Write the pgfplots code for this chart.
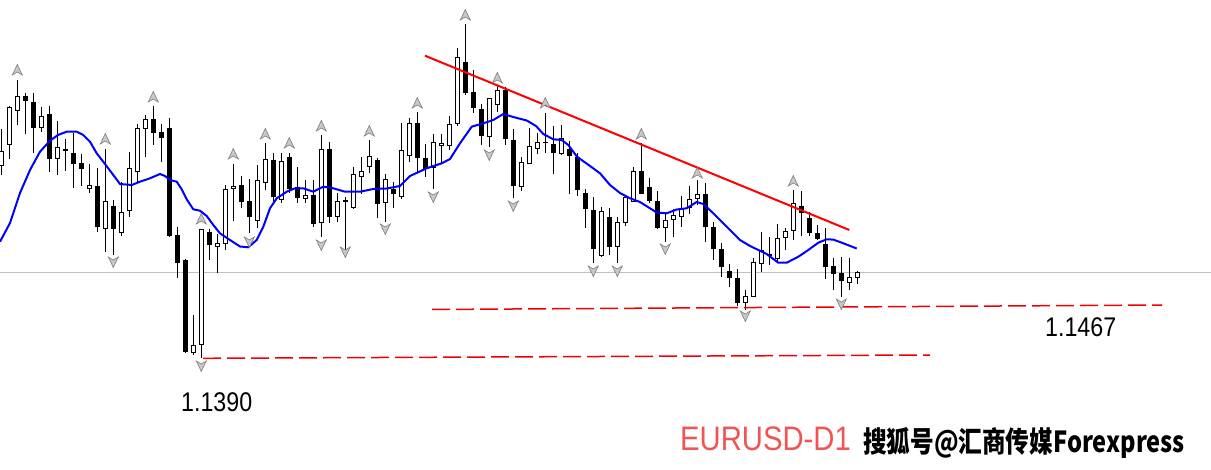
\documentclass[border=0pt]{standalone}
\usepackage{pgfplots}
\pgfplotsset{compat=1.18}
\usepackage{pgfplotstable}
\usepackage{graphicx}
\usepackage{fontspec}
\setmainfont{Liberation Sans}
\newfontfamily\cjk{Noto Sans CJK SC}

\definecolor{ma}{RGB}{0,0,255}
\definecolor{trend}{RGB}{255,0,0}
\definecolor{lvl}{RGB}{240,0,0}
\definecolor{curr}{RGB}{192,192,192}
\definecolor{tag}{RGB}{240,84,84}
\definecolor{frfill}{RGB}{200,200,200}
\definecolor{frdraw}{RGB}{125,125,125}

% fractal arrows
\pgfdeclareplotmark{fup}{%
  \pgfpathmoveto{\pgfqpoint{0pt}{5.5pt}}%
  \pgfpathlineto{\pgfqpoint{5pt}{-5pt}}%
  \pgfpathlineto{\pgfqpoint{0pt}{-2pt}}%
  \pgfpathlineto{\pgfqpoint{-5pt}{-5pt}}%
  \pgfpathclose\pgfusepathqfillstroke}
\pgfdeclareplotmark{fdn}{%
  \pgfpathmoveto{\pgfqpoint{0pt}{-5.5pt}}%
  \pgfpathlineto{\pgfqpoint{5pt}{5pt}}%
  \pgfpathlineto{\pgfqpoint{0pt}{2pt}}%
  \pgfpathlineto{\pgfqpoint{-5pt}{5pt}}%
  \pgfpathclose\pgfusepathqfillstroke}

% candles: k = bar index, o h l c in screen units (down = lower price)
\pgfplotstableread{
k o h l c
0 166 129.3 175 150.7
1 145.3 106.5 158.7 107.3
2 110.7 80 125 96
3 96 92.7 134 100.7
4 102 92.7 152.7 127.7
5 127.7 106.7 131.7 116
6 114 106 171.7 159
7 158.7 121 175 147.3
8 149.3 139.3 170.7 150.7
9 153.3 132.7 187.7 163.7
10 163 154 186 168.7
11 188.7 164 192.7 185.3
12 186 168 232 226.7
13 228.7 149.3 252 201.3
14 206 200 254.7 228.7
15 232.7 182 236 212.3
16 211 152.3 217.3 168.3
17 172 124 182 128.3
18 129.3 115 156.7 119.3
19 119.3 106 145 132.7
20 132 124 161.7 138.5
21 128.3 118 236.7 236
22 235.3 227.3 278.3 262.7
23 260 259 353 351.7
24 352.7 315 355 345
25 345.5 229 358.5 229.3
26 232 229 260 245.3
27 247.3 234 273.3 243.3
28 244.3 185 250 189.3
29 189.3 164 220.7 186.3
30 185.3 176 208.3 201.7
31 201 179.3 233.3 217.3
32 221.3 165.3 228.3 180.3
33 183.3 143 190 159.3
34 160 152.7 203 196.7
35 200 152.7 203.3 161.3
36 157 152.7 193.3 189
37 187.3 167.3 203.3 197.7
38 199.3 180 202.7 195.3
39 195 180 226.7 224
40 223.3 135 237.3 149.3
41 149.3 141.7 223.3 216.7
42 216.7 193.3 221.7 201
43 200 196.7 253.3 202.3
44 207.7 166.7 208.7 174.3
45 176.7 156.7 194 171
46 167.3 140 173 156
47 160 158 218.3 204.3
48 203.3 174 221.7 179.3
49 189.3 181.7 208.3 194.3
50 196.7 123.3 199 150.3
51 156 118.3 161.7 123.3
52 123.3 112 172 157.7
53 158.3 144 177 169.3
54 167.7 134 189 142.3
55 145.7 134 163 143.3
56 145.7 116 150 124.3
57 124.3 48.5 126 57.3
58 62.3 24 95 93
59 92.3 70 113 108.5
60 109.3 104 145.5 135.7
61 137.5 98.3 146.7 98.3
62 105.2 86 112 90
63 90 86.7 145.5 139.5
64 140 129.3 198.3 185.7
65 187.3 157 191 162.3
66 164.3 128.3 164.3 146
67 149.3 133 154 142.3
68 142.5 113.3 153.5 143.5
69 144.3 126.5 174.5 153.3
70 154.3 125.5 155.5 138.3
71 149.3 141.5 194.5 155.8
72 156.7 153 196 190.5
73 192.7 189 228.5 209.5
74 210 197 263.5 249.5
75 256.5 207 256.7 211.3
76 216.9 208.3 255 246.7
77 246.7 216.7 263.5 222.3
78 223.3 195 226 196.7
79 201.7 167 202.5 171.5
80 171 143 194 194
81 186.7 178.3 202.8 200.8
82 201 191.5 229 227.7
83 228.3 212.7 241.7 220
84 220 209 236.7 215.5
85 216.7 196.5 226.7 208
86 208 186 214 199.3
87 199.2 180 205 194
88 194 183 241.7 226.7
89 227.3 222 259.7 249.3
90 249.3 243 277.5 267.5
91 271.5 264.5 287.3 278.5
92 278.3 269.3 306.3 302.7
93 302.7 290 310.5 296.5
94 296.7 258.3 296.7 261.7
95 264.3 232 271.7 250.5
96 254.3 237.3 265.5 256
97 259 224 261 238.3
98 238.3 228 250.5 231.3
99 231.3 190.5 240.3 203
100 206 191.5 236 213.5
101 218 212.5 236 232.7
102 233.3 225.5 240.5 239.5
103 244 228.3 279.3 266.7
104 266 258 289.7 274
105 273.3 257.5 296.7 280.7
106 283.3 258 289.7 277.3
107 278.3 271 283.7 272.3
}\candles

\pgfplotstableread{
k y
2 70
13 139
19 97
25 219
29 154
33 134
36 143
40 126
46 131
52 103
58 15
62 78
68 103
80 134
87 173
99 181
}\fracup

\pgfplotstableread{
k y
14 262
25 366
31 242
40 245
43 252
48 229
54 197
61 155
64 206
74 271
77 271
83 249
93 316
105 304
}\fracdn

\begin{document}
\begin{tikzpicture}
\useasboundingbox (0,0) rectangle (1211pt,470pt);
\begin{axis}[
  scale only axis, width=1211pt, height=470pt,
  xmin=0, xmax=1211, ymin=0, ymax=470, y dir=reverse,
  axis lines=none, xtick=\empty, ytick=\empty]

% current price line
\addplot[curr, line width=1pt] coordinates {(0,272.3) (1211,272.3)};

% wicks
\addplot[draw=none, forget plot, error bars/.cd, y dir=plus, y explicit, error mark=none,
  error bar style={draw=black, solid, line width=1pt}]
  table[x expr=1.3+8*\thisrow{k}, y=h, y error plus expr=\thisrow{l}-\thisrow{h}] {\candles};
% bodies
\addplot[draw=none, forget plot, error bars/.cd, y dir=plus, y explicit, error mark=none,
  error bar style={draw=black, solid, line width=5pt}]
  table[x expr=1.3+8*\thisrow{k}, y expr={min(\thisrow{o},\thisrow{c})},
        y error plus expr={max(abs(\thisrow{o}-\thisrow{c}),1)}] {\candles};
% hollow inside of bull candles
\addplot[draw=none, forget plot, error bars/.cd, y dir=plus, y explicit, error mark=none,
  error bar style={draw=white, solid, line width=3pt}]
  table[x expr=1.3+8*\thisrow{k}, y expr={min(\thisrow{o},\thisrow{c})+1},
        y error plus expr={(\thisrow{c}<\thisrow{o})*max(abs(\thisrow{o}-\thisrow{c})-2,0)}] {\candles};

% support levels
\addplot[lvl, line width=1.5pt, dash pattern=on 18pt off 6pt] coordinates {(432,309.5) (1162,305)};
\addplot[lvl, line width=1.5pt, dash pattern=on 18pt off 6pt] coordinates {(203,358.3) (930,355)};

% moving average
\addplot[ma, line width=2pt, line join=round] coordinates {
(0,241.7) (10,223) (20,193) (30,170) (40,151.7) (50,140.7) (58,135) (66.7,131.7)
(76.7,131.7) (83.3,135) (90,141.7) (96.7,153.3) (105,164) (113.3,175) (120,184)
(131.7,185) (140,181.7) (150,178.3) (160,174) (165,176) (170,180) (176.7,181.7)
(181.7,189.3) (186.7,199.3) (193.3,209.3) (200,210.7) (206.7,216) (213.3,225)
(220,233.3) (230,240) (240,246.5) (248.3,247.3) (256.7,240) (263.3,226.7)
(270,208.3) (276.7,198.3) (286.7,191.7) (295,188.3) (303.3,188.3) (313.3,191.7)
(323.3,186.7) (333.3,188.3) (345,191.7) (360,191.7) (373.3,189) (386.7,188.5)
(400,186) (410,176) (426.7,168.3) (441.7,163.3) (450,159) (460,143.3)
(471.7,126.7) (483.3,123.3) (493.3,120) (503.3,114) (513.3,117) (526.7,120.5)
(536,126) (543.3,134) (553.3,139.3) (561.7,140) (568.3,145) (577,156.7)
(590,166) (600,173.3) (610,185) (620,193) (630,198.3) (640,202) (656.7,212.5)
(666.7,213.3) (676.7,209.5) (686.7,208.3) (696.7,202) (703.3,204) (713.3,213.3)
(726.7,226.7) (740,240) (750,246) (766.7,254) (778.3,262.7) (786.7,262.7)
(798.3,256.7) (808.3,250) (818.3,242.7) (826.7,239.3) (833.3,239.6) (843.3,243.3)
(856.7,248.5)};

% trend line
\addplot[trend, line width=2pt] coordinates {(425,55.7) (849.3,230)};

% fractals
\addplot[only marks, mark=fup, mark options={draw=frdraw, fill=frfill, line width=0.6pt}]
  table[x expr=1.3+8*\thisrow{k}, y=y] {\fracup};
\addplot[only marks, mark=fdn, mark options={draw=frdraw, fill=frfill, line width=0.6pt}]
  table[x expr=1.3+8*\thisrow{k}, y=y] {\fracdn};

\node[anchor=base west, inner sep=0pt] at (axis cs:181,411)
  {\scalebox{0.86}[1]{\fontsize{27}{30}\selectfont 1.1390}};
\node[anchor=base west, inner sep=0pt] at (axis cs:1045,337)
  {\scalebox{0.86}[1]{\fontsize{27}{30}\selectfont 1.1467}};
\node[anchor=base west, inner sep=0pt, text=tag] at (axis cs:680,450)
  {\scalebox{0.86}[1]{\fontsize{34}{38}\selectfont EURUSD-D1}};
\node[anchor=base west, inner sep=0pt] at (axis cs:863,452)
  {\scalebox{0.815}[1]{\cjk\bfseries\fontsize{29}{32}\selectfont 搜狐号@汇商传媒Forexpress}};
\end{axis}
\end{tikzpicture}
\end{document}
